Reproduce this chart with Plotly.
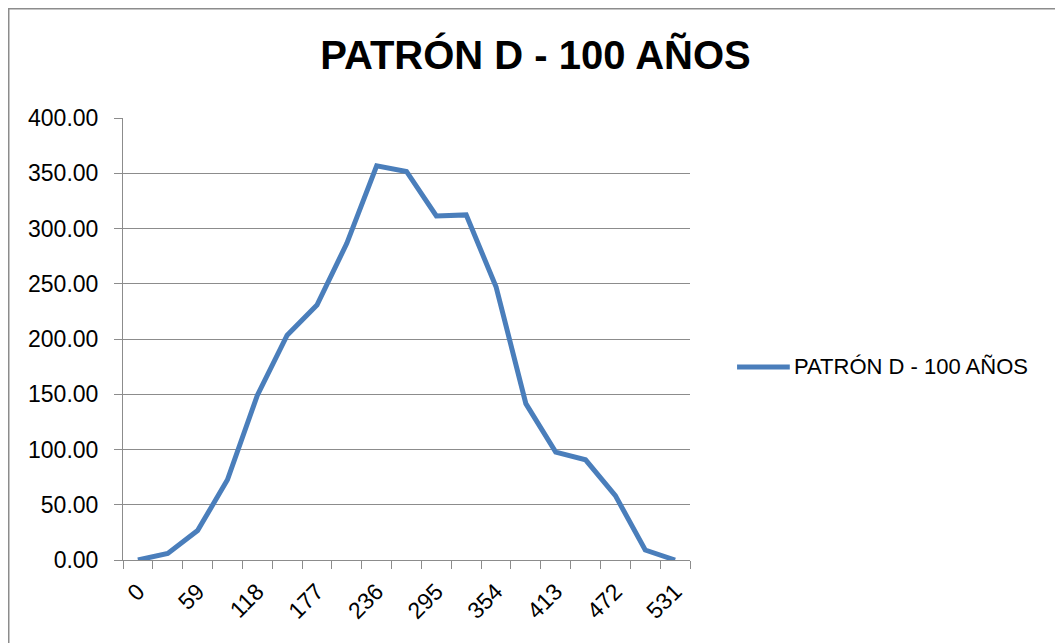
import plotly.graph_objects as go

# chart data
SERIES_NAME = "PATRÓN D - 100 AÑOS"
X_VALUES = [0, 29.5, 59, 88.5, 118, 147.5, 177, 206.5, 236, 265.5,
            295, 324.5, 354, 383.5, 413, 442.5, 472, 501.5, 531]
Y_VALUES = [0, 6, 26.6, 72.6, 149, 203.4, 230.7, 286.6, 356.7, 351.6,
            311.4, 312.3, 247.3, 141.5, 97.6, 90.7, 58.3, 9, 0]
X_TICKS = [0, 59, 118, 177, 236, 295, 354, 413, 472, 531]

# plotting constants
FONT = "Liberation Sans, Arial, sans-serif"
LINE_COLOUR = "#4A7EBB"
GRID_COLOUR = "#8C8C8C"
STEP = 29.5

fig = go.Figure()

fig.add_trace(
    go.Scatter(
        x=X_VALUES,
        y=Y_VALUES,
        mode="lines",
        line=dict(color=LINE_COLOUR, width=5),
        name=SERIES_NAME,
        showlegend=False,
    )
)

# hand drawn legend entry (longer line than plotly's own)
fig.add_shape(
    type="line", xref="paper", yref="paper",
    x0=1.083, x1=1.176, y0=0.4367, y1=0.4367,
    line=dict(color=LINE_COLOUR, width=5),
)
fig.add_annotation(
    xref="paper", yref="paper", x=1.18, y=0.4367,
    text=SERIES_NAME, showarrow=False, xanchor="left", yanchor="middle",
    font=dict(size=22, color="black", family=FONT),
)

# outer chart border
fig.add_shape(
    type="rect", xref="paper", yref="paper",
    x0=-0.2015, x1=1.654, y0=-0.25, y1=1.247,
    line=dict(color=GRID_COLOUR, width=1.5),
)

# page body has an 8px margin, so the figure is a bit smaller than the window
fig.update_layout(
    width=1055,
    height=635,
    margin=dict(l=115, r=373, t=110, b=83),
    paper_bgcolor="white",
    plot_bgcolor="white",
    font=dict(family=FONT, size=23, color="black"),
    title=dict(
        text="<b>" + SERIES_NAME + "</b>",
        x=0.5, xref="container", xanchor="center",
        y=0.926, yref="container", yanchor="middle",
        font=dict(size=40, family=FONT, color="black"),
    ),
)

fig.update_xaxes(
    range=[-STEP / 2, X_VALUES[-1] + STEP / 2],
    tickvals=X_TICKS,
    ticktext=[str(t) for t in X_TICKS],
    tickangle=-45,
    ticks="",
    ticklabelstandoff=8,
    showgrid=False,
    zeroline=False,
    showline=True,
    linecolor=GRID_COLOUR,
    linewidth=1,
    minor=dict(
        tick0=-STEP / 2, dtick=STEP, ticks="outside", ticklen=8,
        tickcolor=GRID_COLOUR, showgrid=False,
    ),
)

fig.update_yaxes(
    range=[0, 400],
    dtick=50,
    tickformat=".2f",
    ticks="outside",
    ticklen=8,
    tickcolor=GRID_COLOUR,
    showgrid=True,
    gridcolor=GRID_COLOUR,
    gridwidth=1,
    zeroline=False,
    showline=True,
    linecolor=GRID_COLOUR,
    linewidth=1,
    ticklabelstandoff=11,
)

fig.write_html("out.html")
